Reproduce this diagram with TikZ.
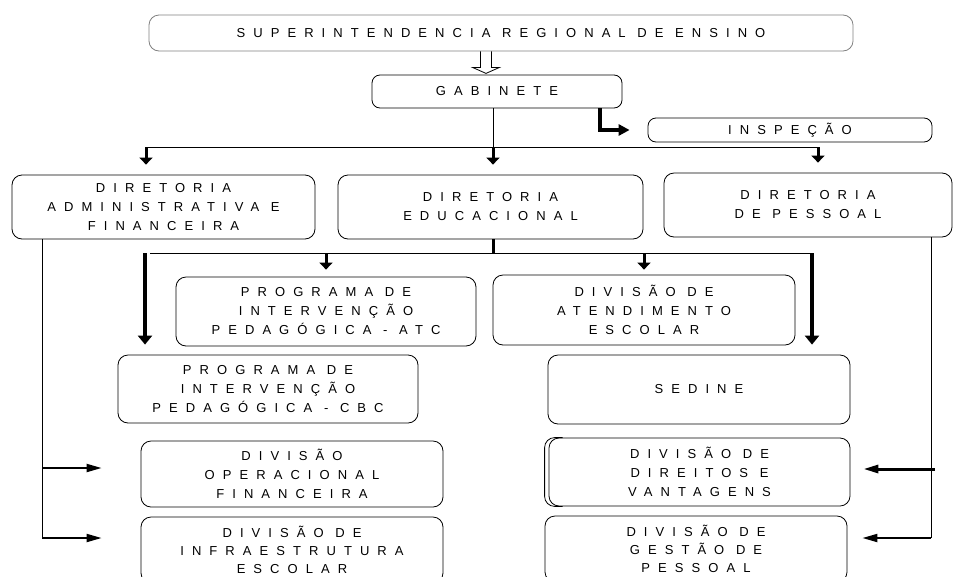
\documentclass[tikz,border=0pt]{standalone}
\usepackage{fontspec}
\newfontfamily\orgfont[LetterSpace=62]{Liberation Sans}
\usetikzlibrary{arrows.meta,calc}
\tikzstyle{orgbox}=[draw, line width=0.8pt, rounded corners=10pt, align=center, inner sep=0pt, font=\orgfont\fontsize{13}{19}\selectfont]
\tikzstyle{thinline}=[line width=0.8pt]
\tikzstyle{drop}=[line width=3pt, -{Triangle[width=13pt,length=7pt]}]
\tikzstyle{bigdrop}=[line width=4pt, -{Triangle[width=14pt,length=9pt]}]
\tikzstyle{side}=[line width=2pt, -{Triangle[width=8pt,length=15pt]}]

\begin{document}
\begin{tikzpicture}[x=1pt,y=-1pt]
	\useasboundingbox (0,0) rectangle (955,576);
	% boxes
	\node[orgbox, draw=gray, minimum width=704, minimum height=36] (sre) at (501,33) {SUPERINTENDENCIA REGIONAL DE ENSINO};
	\node[orgbox, rounded corners=8pt, minimum width=250, minimum height=33] (gab) at (497,91.5) {GABINETE};
	\node[orgbox, rounded corners=8pt, minimum width=284, minimum height=24] (insp) at (790,130) {INSPEÇÃO};
	\node[orgbox, minimum width=303, minimum height=64] (dadm) at (163.5,207) {DIRETORIA\\ADMINISTRATIVA E\\FINANCEIRA};
	\node[orgbox, minimum width=305, minimum height=64] (dedu) at (490.5,207) {DIRETORIA\\EDUCACIONAL};
	\node[orgbox, minimum width=288, minimum height=64] (dpes) at (808,205) {DIRETORIA\\DE PESSOAL};
	\node[orgbox, minimum width=300, minimum height=69] (patc) at (326,311.5) {PROGRAMA DE\\INTERVENÇÃO\\PEDAGÓGICA - ATC};
	\node[orgbox, minimum width=302, minimum height=70] (date) at (644,310) {DIVISÃO DE\\ATENDIMENTO\\ESCOLAR};
	\node[orgbox, minimum width=300, minimum height=68] (pcbc) at (268,389) {PROGRAMA DE\\INTERVENÇÃO\\PEDAGÓGICA - CBC};
	\node[orgbox, minimum width=302, minimum height=69] (sedi) at (699,389.5) {SEDINE};
	\node[orgbox, minimum width=302, minimum height=66] (dopf) at (292,474) {DIVISÃO\\OPERACIONAL\\FINANCEIRA};
	\node[orgbox, minimum width=301, minimum height=68] (ddir) at (699.5,472) {DIVISÃO DE\\DIREITOS E\\VANTAGENS};
	\node[orgbox, font=\orgfont\fontsize{13}{18}\selectfont, minimum width=302, minimum height=66] (dinf) at (292,550) {DIVISÃO DE\\INFRAESTRUTURA\\ESCOLAR};
	\node[orgbox, font=\orgfont\fontsize{13}{18}\selectfont, minimum width=302, minimum height=66] (dges) at (696,549) {DIVISÃO DE\\GESTÃO DE\\PESSOAL};
	\draw[thinline, rounded corners=10pt] ([xshift=14pt]ddir.north west) -- ([xshift=-4pt]ddir.north west) -- ([xshift=-4pt]ddir.south west) -- ([xshift=14pt]ddir.south west);
	% superintendencia to gabinete
	\coordinate (ha) at ($(sre.south -| gab.north)+(-11,0)$);
	\draw[thinline] (ha) ++(-5.5,0) -- ++(0,16) -- ++(-8,0) -- ++(13.5,6) -- ++(13.5,-6) -- ++(-8,0) -- ++(0,-16);
	% gabinete
	\coordinate (b1) at (493,147);
	\coordinate (b1l) at (146,147);
	\coordinate (b1r) at (818,147);
	\coordinate (gi) at (600,0);
	\draw[thinline] (gab.south -| b1) -- (b1);
	\draw[thinline] (b1l) -- (b1r);
	\foreach \c/\n in {b1l/dadm, b1/dedu, b1r/dpes}
		\draw[drop, shorten >=10pt] (\c) -- (\c |- \n.north);
	\draw[line width=4pt, -{Triangle[width=11pt,length=11pt]}, shorten >=18pt] (gab.south -| gi) |- (insp.west);
	% diretoria educacional
	\coordinate (b2) at (493,253);
	\coordinate (b2l) at (150,253);
	\coordinate (b2r) at (813,253);
	\coordinate (k1) at (145,253);
	\coordinate (k2) at (812,253);
	\draw[line width=3pt] (dedu.south -| b2) -- (b2);
	\draw[thinline] (b2l) -- (b2r);
	\draw[bigdrop, shorten >=10pt] (k1) -- (k1 |- pcbc.north);
	\draw[bigdrop, shorten >=10pt] (k2) -- (k2 |- sedi.north);
	\draw[drop, shorten >=7pt] (patc.north |- b2) -- (patc.north);
	\draw[drop, shorten >=5pt] (date.north |- b2) -- (date.north);
	% diretoria administrativa
	\coordinate (la) at (42,468);
	\coordinate (lc) at (42,538);
	\draw[thinline] (dadm.south -| la) -- (lc);
	\draw[side, shorten >=39pt] (la) -- (la -| dopf.west);
	\draw[side, shorten >=39pt] (lc) -- (lc -| dinf.west);
	% diretoria de pessoal
	\coordinate (ra) at (931,469);
	\coordinate (rc) at (931,538);
	\draw[thinline] (dpes.south -| ra) -- (rc);
	\draw[side, line width=3pt, shorten >=13pt] ([xshift=4pt]ra) -- (ra -| ddir.east);
	\draw[side, shorten >=15pt] (rc) -- (rc -| dges.east);
\end{tikzpicture}
\end{document}
